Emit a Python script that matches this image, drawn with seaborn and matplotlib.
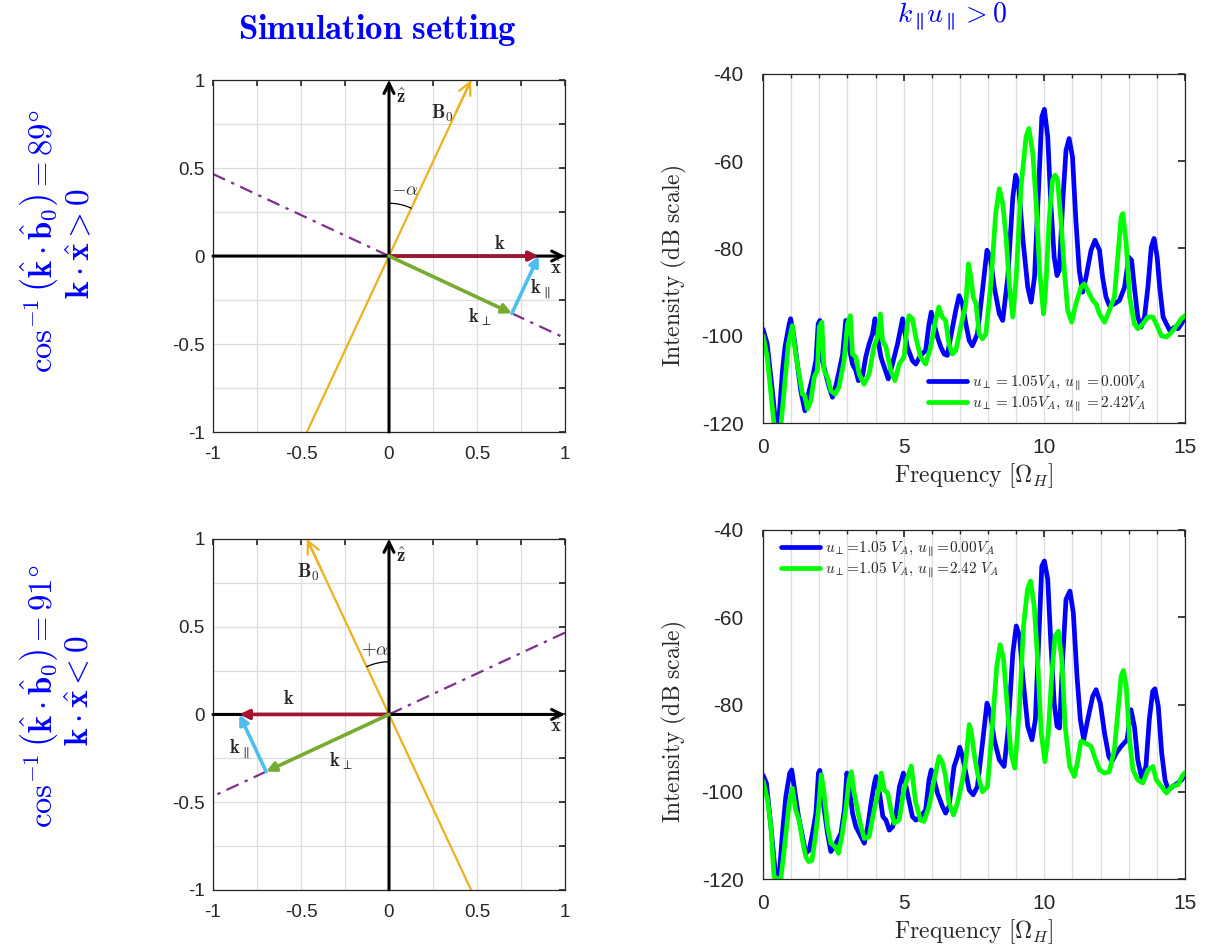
import numpy as np
import pandas as pd
import matplotlib
matplotlib.use("Agg")
import matplotlib.pyplot as plt
import seaborn as sns

# ---------------- geometry values (vector diagrams) ----------------
k_mag = 0.85            # |k|
alpha_deg = 25.0        # tilt of B0 from z-axis (drawn)
arc_radius = 0.30
angle_labels = ["89", "91"]

# ---------------- spectra: top panel ----------------
top_blue_f = [0.0, 0.15, 0.33, 0.45, 0.57, 0.69, 0.78, 0.93, 0.98, 1.10, 1.22, 1.34, 1.49, 1.64, 1.76, 1.88,
              1.96, 2.02, 2.11, 2.23, 2.35, 2.47, 2.59, 2.71, 2.83, 2.94, 3.06, 3.18, 3.30, 3.39, 3.54, 3.65,
              3.77, 3.89, 3.98, 4.07, 4.19, 4.31, 4.45, 4.60, 4.78, 4.96, 5.13, 5.31, 5.43, 5.60, 5.78, 5.90,
              5.98, 6.08, 6.20, 6.32, 6.44, 6.55, 6.67, 6.85, 6.97, 7.09, 7.21, 7.33, 7.44, 7.62, 7.80, 7.96,
              8.08, 8.22, 8.40, 8.52, 8.70, 8.88, 8.98, 9.08, 9.23, 9.41, 9.53, 9.65, 9.77, 9.91, 10.0, 10.12,
              10.23, 10.35, 10.45, 10.53, 10.65, 10.77, 10.88, 11.0, 11.12, 11.24, 11.36, 11.48, 11.66, 11.80,
              11.96, 12.07, 12.19, 12.31, 12.49, 12.67, 12.85, 13.0, 13.1, 13.2, 13.32, 13.44, 13.56, 13.68,
              13.80, 13.90, 14.01, 14.10, 14.22, 14.34, 14.46, 14.64, 14.75, 14.87, 15.0]
top_blue_db = [-98.5, -101.9, -112.6, -120.2, -118.7, -108, -102.6, -97.3, -96.1, -100.3, -106.5, -112.6, -117.2,
               -112.6, -109.5, -105.7, -97.3, -96.5, -105.7, -108.8, -111.8, -114.1, -111.4, -108, -104.2, -96.5,
               -102.6, -106.5, -108, -110.3, -109.1, -104.9, -101.9, -99.6, -96.1, -100.3, -104.9, -107.2, -109.9,
               -106.5, -101.9, -96.1, -102.6, -105.7, -106.5, -104.5, -103.4, -97.3, -94.6, -97.3, -100.3, -102.6,
               -104.2, -104.5, -100.3, -94.2, -90.8, -92.7, -97.3, -101.1, -102.3, -99.6, -89.6, -80.4, -82, -88.9,
               -95, -96.5, -86.6, -68.2, -63.2, -65.1, -77.4, -88.9, -92.3, -86.6, -69.7, -49.8, -48.1, -54.4,
               -69.7, -82, -86.2, -85, -69.7, -57.5, -54.8, -59, -73.5, -85, -90, -86.6, -80.4, -78.1, -80.4,
               -86.6, -91.1, -93.1, -92.7, -91.9, -88.9, -82, -82.7, -88.9, -95.7, -98, -95.7, -88.9, -79.7, -77.7,
               -82, -88.9, -95.7, -97.3, -98.8, -98, -98.4, -97.3, -95.7]

top_green_f = [0.0, 0.15, 0.27, 0.39, 0.63, 0.75, 0.90, 1.04, 1.16, 1.28, 1.40, 1.48, 1.58, 1.70, 1.82, 1.93, 2.0,
               2.09, 2.17, 2.29, 2.41, 2.56, 2.70, 2.88, 3.0, 3.10, 3.18, 3.30, 3.42, 3.59, 3.77, 3.95, 4.07, 4.17,
               4.25, 4.37, 4.54, 4.69, 4.84, 5.01, 5.13, 5.19, 5.31, 5.43, 5.60, 5.78, 5.96, 6.13, 6.25, 6.37, 6.49,
               6.61, 6.73, 6.85, 7.03, 7.21, 7.30, 7.39, 7.47, 7.57, 7.68, 7.80, 7.92, 8.10, 8.27, 8.40, 8.52, 8.64,
               8.76, 8.88, 9.00, 9.17, 9.35, 9.45, 9.59, 9.71, 9.83, 9.97, 10.05, 10.17, 10.29, 10.38, 10.47, 10.59,
               10.71, 10.83, 10.97, 11.12, 11.30, 11.42, 11.54, 11.72, 11.84, 11.96, 12.14, 12.31, 12.49, 12.61,
               12.73, 12.79, 12.91, 13.03, 13.2, 13.32, 13.5, 13.68, 13.86, 13.98, 14.16, 14.34, 14.52, 14.70,
               14.87, 15.0]
top_green_db = [-100.0, -104.9, -112.6, -120.2, -121, -112.6, -101.9, -97.7, -104.2, -108.8, -113.4, -113.7, -116.8,
                -114.9, -109.5, -108, -98, -96.9, -108, -109.5, -112.6, -113.4, -111.8, -105.7, -97.3, -95.4, -104.2,
                -104.9, -108.8, -111.1, -108.8, -102.3, -100.3, -95, -101.1, -102.6, -108, -110.3, -106.5, -104.9,
                -97.3, -95.4, -96.1, -100.3, -104.9, -106.5, -102.6, -96.5, -93.4, -95.7, -96.5, -101.9, -104.2,
                -103.4, -98, -92.7, -83.5, -86.6, -91.1, -92.7, -99.6, -100.7, -99.6, -88.1, -72, -66.3, -69.7,
                -77.4, -88.9, -95.7, -86.6, -65.9, -54.4, -52.5, -58.2, -69.7, -85, -95, -88.9, -73.5, -64.3, -63.2,
                -64.3, -73.5, -85, -94.2, -96.9, -92.7, -88.9, -88.1, -89.6, -91.9, -92.7, -95, -96.9, -94.2, -91.1,
                -82, -72.8, -72, -78.9, -91.1, -97.3, -98.4, -97.3, -95.7, -95.7, -97.3, -100, -100.3, -99.2, -97.7,
                -96.1, -95.4]

# ---------------- spectra: bottom panel ----------------
bot_blue_f = [0.0, 0.12, 0.28, 0.45, 0.57, 0.69, 0.81, 0.95, 1.02, 1.14, 1.26, 1.38, 1.52, 1.64, 1.76, 1.88, 1.97,
              2.02, 2.13, 2.29, 2.41, 2.53, 2.65, 2.77, 2.89, 2.98, 3.09, 3.18, 3.30, 3.42, 3.60, 3.72, 3.84, 3.96,
              4.02, 4.14, 4.26, 4.37, 4.49, 4.61, 4.73, 4.85, 4.99, 5.13, 5.31, 5.43, 5.60, 5.78, 5.90, 5.98, 6.08,
              6.20, 6.38, 6.49, 6.61, 6.79, 6.91, 6.99, 7.09, 7.21, 7.33, 7.47, 7.62, 7.80, 7.96, 8.08, 8.22, 8.40,
              8.57, 8.70, 8.88, 9.0, 9.12, 9.23, 9.41, 9.56, 9.68, 9.77, 9.91, 10.0, 10.12, 10.23, 10.35, 10.45,
              10.54, 10.65, 10.77, 10.91, 11.03, 11.16, 11.28, 11.40, 11.54, 11.72, 11.84, 11.99, 12.14, 12.29,
              12.40, 12.56, 12.73, 12.94, 13.08, 13.2, 13.32, 13.46, 13.61, 13.73, 13.85, 13.93, 14.05, 14.17,
              14.29, 14.41, 14.56, 14.74, 14.88, 15.0]
bot_blue_db = [-96.2, -98, -108, -119.5, -119.5, -109.5, -101.1, -95.7, -95, -100.3, -105.7, -109.5, -114.1, -113.4,
               -109.5, -104.9, -95.7, -95.1, -101.9, -109.5, -113.7, -112.6, -111.1, -109.5, -104.2, -95.7, -100.3,
               -104.9, -108, -109.5, -111.8, -108, -102.6, -98, -96.5, -100.3, -105.7, -106.5, -108.8, -108, -104.9,
               -98.8, -95.7, -100.3, -105.7, -106.5, -105.7, -104.2, -97.3, -95, -97.3, -100.3, -103.4, -104.9,
               -103.4, -94.2, -91.9, -89.8, -91.9, -95.7, -99.6, -100.7, -98.8, -88.9, -79.7, -82, -88.1, -92.7,
               -94.2, -86.6, -68.2, -62, -64.3, -73.5, -85, -88.1, -83.5, -69.7, -48.3, -47.1, -51.3, -65.9, -79.7,
               -85, -85.4, -69.7, -55.9, -54, -59, -73.5, -83.5, -88.1, -83.5, -78.1, -76.6, -79.7, -86.6, -91.9,
               -93.1, -91.1, -89.6, -88.1, -81.2, -85, -92.7, -96.9, -94.2, -83.5, -77, -76.4, -80.4, -91.1, -97.3,
               -99.6, -98.8, -98, -97.3, -96.1]

bot_green_f = [0.0, 0.16, 0.28, 0.39, 0.63, 0.75, 0.93, 1.04, 1.16, 1.28, 1.40, 1.52, 1.62, 1.74, 1.86, 1.97, 2.07,
               2.17, 2.29, 2.41, 2.56, 2.68, 2.80, 2.94, 3.06, 3.14, 3.24, 3.36, 3.48, 3.60, 3.77, 3.95, 4.11, 4.20,
               4.31, 4.43, 4.55, 4.66, 4.84, 5.01, 5.15, 5.27, 5.42, 5.60, 5.72, 5.90, 6.08, 6.26, 6.38, 6.49, 6.61,
               6.77, 6.91, 7.09, 7.21, 7.33, 7.41, 7.50, 7.62, 7.80, 7.98, 8.15, 8.31, 8.43, 8.55, 8.69, 8.81, 8.95,
               9.11, 9.26, 9.40, 9.51, 9.64, 9.76, 9.89, 10.02, 10.14, 10.26, 10.38, 10.50, 10.62, 10.74, 10.90,
               11.07, 11.19, 11.30, 11.48, 11.66, 11.78, 11.96, 12.14, 12.31, 12.49, 12.61, 12.73, 12.81, 12.91,
               13.03, 13.15, 13.32, 13.5, 13.68, 13.86, 13.98, 14.16, 14.34, 14.52, 14.75, 14.89, 15.0]
bot_green_db = [-97.5, -101.9, -108, -119.5, -120.2, -113.4, -102.6, -99.2, -104.2, -106.5, -111.1, -114.9, -116,
                -115.7, -110.3, -104.2, -96.1, -100.3, -108, -111.8, -112.6, -114.1, -110.3, -104.2, -97.3, -95.4,
                -100.3, -104.2, -108, -110.7, -110.3, -104.2, -99.6, -95.7, -99.6, -100.3, -104.2, -107.2, -106.5,
                -99.5, -96.5, -94.1, -102.3, -106.5, -106.8, -103.4, -97.3, -91.9, -93.4, -96.5, -102.6, -105.3,
                -102.6, -97.3, -92.7, -84.6, -86.6, -91.1, -95.7, -100, -98.8, -85, -71.2, -66.3, -69.7, -81.2,
                -91.1, -94.6, -81.2, -62, -53.6, -51.7, -57.5, -69.7, -86.6, -93.1, -86.6, -73.5, -64.3, -63.2,
                -69.7, -85, -94.2, -96.5, -92.7, -88.4, -88.9, -89.6, -91.9, -95, -95.7, -95.4, -90.3, -82, -73.5,
                -72.2, -75.8, -88.1, -95, -97.3, -98, -95, -94.2, -97.3, -98.8, -100.3, -98.8, -98.4, -96.5, -95.6]

top_labels = [r"$u_\perp = 1.05V_A,\, u_\parallel = 0.00V_A$",
              r"$u_\perp = 1.05V_A,\, u_\parallel = 2.42V_A$"]
bot_labels = [r"$u_\perp\!=\!1.05\ V_A,\, u_\parallel\!=\!0.00V_A$",
              r"$u_\perp\!=\!1.05\ V_A,\, u_\parallel\!=\!2.42\ V_A$"]

# ---------------- style ----------------
sns.set_theme(style="white")
plt.rcParams['font.family'] = ['Liberation Sans', 'DejaVu Sans']
plt.rcParams['mathtext.fontset'] = 'cm'
plt.rcParams['axes.unicode_minus'] = False

BLUE = '#0000FF'
GREEN = '#00FF00'
ORANGE = '#EDB120'
RED = '#A2142F'
KGREEN = '#77AC30'
CYAN = '#4DBEEE'
PURPLE = '#7E2F8E'
GRID = '#DDDDDD'
FRAME = '#262626'

fig = plt.figure(figsize=(12.06, 9.51), dpi=100)
ax_tl = fig.add_axes([0.1766, 0.5457, 0.2919, 0.3701])
ax_bl = fig.add_axes([0.1766, 0.0642, 0.2919, 0.3691])
ax_tr = fig.add_axes([0.6327, 0.5552, 0.3499, 0.3670])
ax_br = fig.add_axes([0.6327, 0.0757, 0.3499, 0.3670])


def frame(ax):
    for s in ax.spines.values():
        s.set_color(FRAME)
        s.set_linewidth(0.9)
    ax.tick_params(which='both', direction='in', top=True, right=True, color=FRAME,
                   labelcolor='#262626')


def geometry(ax, s):
    a = np.deg2rad(alpha_deg)
    ax.set_xlim(-1, 1)
    ax.set_ylim(-1, 1)
    ticks = np.arange(-1, 1.01, 0.25)
    ax.set_xticks(ticks)
    ax.set_yticks(ticks)
    lab = [("%g" % t) if abs(t * 2 - round(t * 2)) < 1e-9 else "" for t in ticks]
    ax.set_xticklabels(lab)
    ax.set_yticklabels(lab)
    ax.grid(True, color=GRID, lw=0.9)
    ax.set_axisbelow(True)
    frame(ax)
    ax.tick_params(labelsize=13.5, length=4, pad=10)
    ax.tick_params(axis='y', pad=6)

    # axes arrows
    ax.annotate("", xy=(1, 0), xytext=(-1, 0),
                arrowprops=dict(arrowstyle='->', color='black', lw=2.2, shrinkA=0, shrinkB=0,
                                mutation_scale=18))
    ax.annotate("", xy=(0, 1), xytext=(0, -1),
                arrowprops=dict(arrowstyle='->', color='black', lw=2.2, shrinkA=0, shrinkB=0,
                                mutation_scale=18))
    # perpendicular plane (dash-dot)
    p = np.array([s * np.cos(a), -np.sin(a)])
    ends = np.array([-p / np.cos(a), p / np.cos(a)])
    ax.plot(ends[:, 0], ends[:, 1], color=PURPLE, lw=1.6, ls=(0, (6, 3, 1.5, 3)))
    # B0
    d = np.array([s * np.sin(a), np.cos(a)])
    b_start, b_end = -d / np.cos(a), d / np.cos(a)
    ax.plot([b_start[0], b_end[0]], [b_start[1], b_end[1]], color=ORANGE, lw=1.6)
    ax.annotate("", xy=b_end, xytext=b_end - 0.2 * d,
                arrowprops=dict(arrowstyle='->', color=ORANGE, lw=1.6, shrinkA=0, shrinkB=0,
                                mutation_scale=22), annotation_clip=False)
    # k, k_perp, k_par
    k = np.array([s * k_mag, 0.0])
    kperp = np.dot(k, p) * p
    for st, en, c in [((0, 0), k, RED), ((0, 0), kperp, KGREEN), (kperp, k, CYAN)]:
        ax.annotate("", xy=en, xytext=st,
                    arrowprops=dict(arrowstyle='-|>', color=c, lw=2.6, shrinkA=0, shrinkB=0,
                                    mutation_scale=14))
    # angle arc
    th = np.linspace(np.pi / 2, np.pi / 2 - s * a, 40)
    ax.plot(arc_radius * np.cos(th), arc_radius * np.sin(th), color='black', lw=0.9)


# ---------- top-left ----------
geometry(ax_tl, 1)
fs = 13.5
ax_tl.text(0.04, 0.90, r"$\hat{\mathbf{z}}$", fontsize=fs, ha='left', va='center')
ax_tl.text(0.24, 0.81, r"$\mathbf{B}_0$", fontsize=fs, ha='left', va='center')
ax_tl.text(0.01, 0.37, r"$-\alpha$", fontsize=fs, ha='left', va='center', color='#333333')
ax_tl.text(0.63, 0.07, r"$\mathbf{k}$", fontsize=fs, ha='center', va='center')
ax_tl.text(0.95, -0.07, r"$\hat{\mathbf{x}}$", fontsize=fs, ha='center', va='center')
ax_tl.text(0.80, -0.19, r"$\mathbf{k}_\parallel$", fontsize=fs, ha='left', va='center')
ax_tl.text(0.45, -0.35, r"$\mathbf{k}_\perp$", fontsize=fs, ha='left', va='center')

# ---------- bottom-left ----------
geometry(ax_bl, -1)
ax_bl.text(0.04, 0.90, r"$\hat{\mathbf{z}}$", fontsize=fs, ha='left', va='center')
ax_bl.text(-0.52, 0.81, r"$\mathbf{B}_0$", fontsize=fs, ha='left', va='center')
ax_bl.text(-0.16, 0.37, r"$+\alpha$", fontsize=fs, ha='left', va='center', color='#333333')
ax_bl.text(-0.57, 0.09, r"$\mathbf{k}$", fontsize=fs, ha='center', va='center')
ax_bl.text(0.95, -0.07, r"$\hat{\mathbf{x}}$", fontsize=fs, ha='center', va='center')
ax_bl.text(-0.91, -0.20, r"$\mathbf{k}_\parallel$", fontsize=fs, ha='left', va='center')
ax_bl.text(-0.34, -0.27, r"$\mathbf{k}_\perp$", fontsize=fs, ha='left', va='center')


# ---------- spectra ----------
def spectrum(ax, fb, db, fg, dg, labels, loc, anchor):
    df_b = pd.DataFrame({"f": fb, "I": db})
    df_g = pd.DataFrame({"f": fg, "I": dg})
    sns.lineplot(data=df_b, x="f", y="I", ax=ax, color=BLUE, lw=3.4, label=labels[0],
                 estimator=None, sort=False, solid_joinstyle='round')
    sns.lineplot(data=df_g, x="f", y="I", ax=ax, color=GREEN, lw=3.4, label=labels[1],
                 estimator=None, sort=False, solid_joinstyle='round')
    ax.set_xlim(0, 15)
    ax.set_ylim(-120, -40)
    ax.set_xticks([0, 5, 10, 15])
    ax.set_xticks(np.arange(0, 16, 1), minor=True)
    ax.set_yticks([-120, -100, -80, -60, -40])
    ax.xaxis.grid(True, which='both', color=GRID, lw=0.9)
    ax.yaxis.grid(False)
    ax.set_axisbelow(True)
    frame(ax)
    ax.tick_params(which='major', labelsize=15, length=5)
    ax.tick_params(which='minor', length=3)
    ax.tick_params(axis='x', pad=11)
    ax.tick_params(axis='y', pad=14)
    ax.set_xlabel(r"$\mathrm{Frequency}\ [\Omega_H]$", fontsize=17)
    ax.set_ylabel(r"$\mathrm{Intensity\ (dB\ scale)}$", fontsize=17)
    ax.xaxis.set_label_coords(0.5, -0.11)
    ax.yaxis.set_label_coords(-0.175, 0.45)
    leg = ax.legend(loc=loc, bbox_to_anchor=anchor, frameon=False, fontsize=11,
                    handlelength=2.6, handletextpad=0.3, labelspacing=0.1, borderaxespad=0.2)
    for h in leg.get_lines():
        h.set_linewidth(3.4)


spectrum(ax_tr, top_blue_f, top_blue_db, top_green_f, top_green_db, top_labels,
         'lower right', (0.93, 0.0))
spectrum(ax_br, bot_blue_f, bot_blue_db, bot_green_f, bot_green_db, bot_labels,
         'upper left', (0.02, 1.0))

# ---------- titles and side labels ----------
fig.text(0.313, 0.968, r"$\mathbf{Simulation\ setting}$", color=BLUE, fontsize=25,
         ha='center', va='center')
fig.text(0.789, 0.982, r"$k_\parallel\!u_\parallel > 0$", color=BLUE, fontsize=20,
         ha='center', va='center')

line1 = r"$\cos^{-1}\left(\hat{\mathbf{k}}\cdot\hat{\mathbf{b}}_0\right) = %s\degree$"
fig.text(0.033, 0.746, line1 % angle_labels[0],
         color=BLUE, fontsize=23.5, rotation=90, ha='center', va='center')
fig.text(0.067, 0.744, r"$\mathbf{k}\cdot\hat{\mathbf{x}} > \mathbf{0}$", color=BLUE, fontsize=24,
         rotation=90, ha='center', va='center')
fig.text(0.033, 0.268, line1 % angle_labels[1],
         color=BLUE, fontsize=23.5, rotation=90, ha='center', va='center')
fig.text(0.067, 0.274, r"$\mathbf{k}\cdot\hat{\mathbf{x}} < \mathbf{0}$", color=BLUE, fontsize=24,
         rotation=90, ha='center', va='center')

fig.savefig("out.png", dpi=100)
